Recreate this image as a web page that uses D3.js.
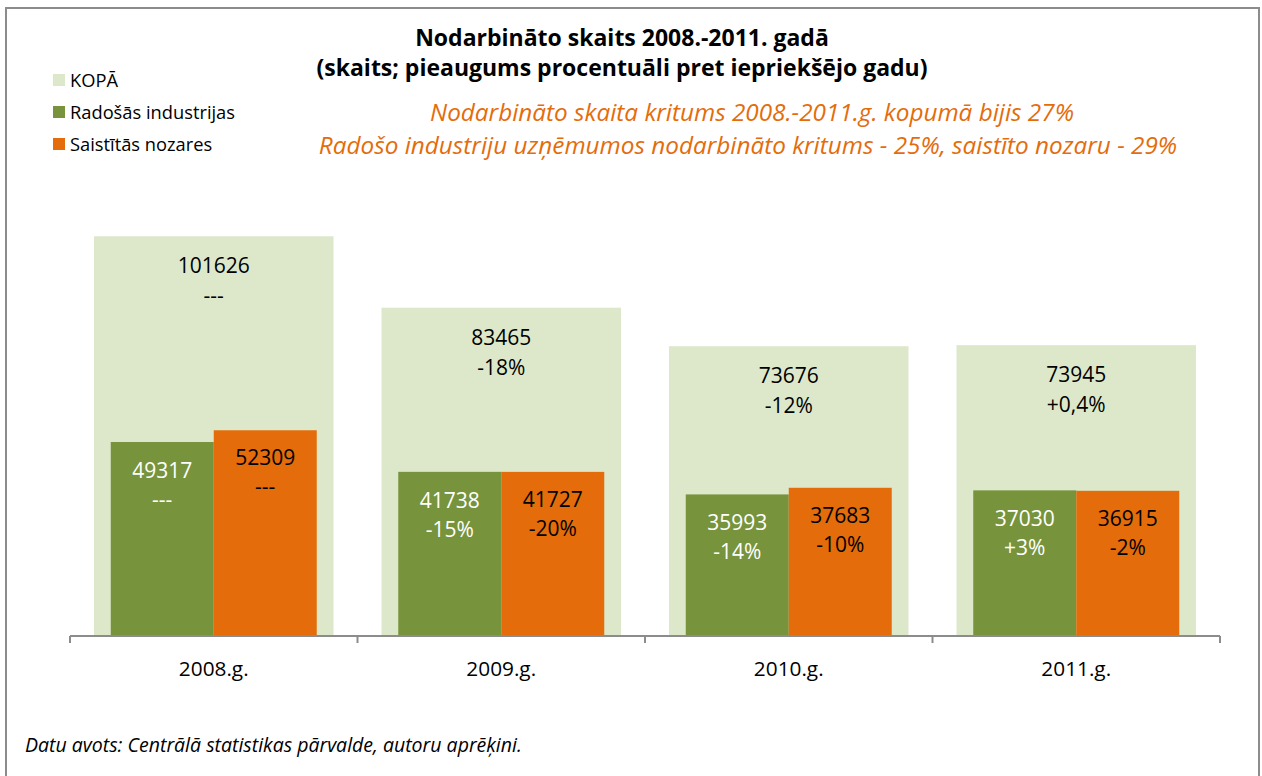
<!DOCTYPE html>
<html>
<head>
<meta charset="utf-8">
<script src="https://cdn.jsdelivr.net/npm/d3@7"></script>
<style>
  body { margin: 0; background: #fff; }
  text { font-family: "Open Sans", "Noto Sans", sans-serif; }
</style>
</head>
<body>
<svg id="chart" width="1262" height="776"></svg>
<script>
var years = ["2008.g.", "2009.g.", "2010.g.", "2011.g."];
var kopa = [101626, 83465, 73676, 73945];
var kopaPct = ["---", "-18%", "-12%", "+0,4%"];
var rados = [49317, 41738, 35993, 37030];
var radosPct = ["---", "-15%", "-14%", "+3%"];
var saist = [52309, 41727, 37683, 36915];
var saistPct = ["---", "-20%", "-10%", "-2%"];
var legendNames = ["KOPĀ", "Radošās industrijas", "Saistītās nozares"];
var colors = ["#dde8cb", "#77933c", "#e46c0a"];

var svg = d3.select("#chart");

// outer frame
svg.append("rect")
  .attr("x", 6).attr("y", 8).attr("width", 1253).attr("height", 790)
  .attr("fill", "none").attr("stroke", "#8c8c8c").attr("stroke-width", 2);

// title
var title = svg.append("text")
  .attr("text-anchor", "middle")
  .attr("font-weight", "bold")
  .attr("font-size", 23)
  .attr("fill", "#000");
title.append("tspan").attr("x", 622).attr("y", 46).text("Nodarbināto skaits 2008.-2011. gadā");
title.append("tspan").attr("x", 622).attr("y", 76).text("(skaits; pieaugums procentuāli pret iepriekšējo gadu)");

// orange notes
var note = svg.append("text")
  .attr("text-anchor", "middle")
  .attr("font-style", "italic")
  .attr("font-size", 24.3)
  .attr("fill", "#e46c0a");
note.append("tspan").attr("x", 752).attr("y", 121).text("Nodarbināto skaita kritums 2008.-2011.g. kopumā bijis 27%");
note.append("tspan").attr("x", 748).attr("y", 154).text("Radošo industriju uzņēmumos nodarbināto kritums - 25%, saistīto nozaru - 29%");

// legend
var legend = svg.selectAll(".legend")
  .data(legendNames)
  .enter().append("g")
  .attr("class", "legend")
  .attr("transform", function (d, i) { return "translate(53," + (74 + i * 32) + ")"; });
legend.append("rect").attr("width", 12).attr("height", 12)
  .attr("fill", function (d, i) { return colors[i]; });
legend.append("text").attr("x", 17).attr("y", 12.5)
  .attr("font-size", 18.3).attr("fill", "#000")
  .text(function (d) { return d; });

// scales
var x0 = d3.scaleBand().domain(years).range([70, 1220]).paddingInner(0).paddingOuter(0);
var y = d3.scaleLinear().domain([0, 120000]).range([636, 164]);
var kopaInset = 24;
var innerW = 103;

var data = years.map(function (yr, i) {
  return { year: yr, kopa: kopa[i], kopaPct: kopaPct[i],
    rados: rados[i], radosPct: radosPct[i], saist: saist[i], saistPct: saistPct[i] };
});

var g = svg.selectAll(".group")
  .data(data)
  .enter().append("g")
  .attr("class", "group")
  .attr("transform", function (d) { return "translate(" + x0(d.year) + ",0)"; });

var bw = x0.bandwidth();
var mid = bw / 2;

g.append("rect")
  .attr("x", kopaInset).attr("width", bw - 2 * kopaInset)
  .attr("y", function (d) { return y(d.kopa); })
  .attr("height", function (d) { return y(0) - y(d.kopa); })
  .attr("fill", colors[0]);

g.append("rect")
  .attr("x", mid - innerW).attr("width", innerW)
  .attr("y", function (d) { return y(d.rados); })
  .attr("height", function (d) { return y(0) - y(d.rados); })
  .attr("fill", colors[1]);

g.append("rect")
  .attr("x", mid).attr("width", innerW)
  .attr("y", function (d) { return y(d.saist); })
  .attr("height", function (d) { return y(0) - y(d.saist); })
  .attr("fill", colors[2]);

function addLabel(sel, cx, key, pctKey, fill, off1, off2) {
  var t = sel.append("text")
    .attr("text-anchor", "middle")
    .attr("font-size", 21)
    .attr("fill", fill);
  t.append("tspan").attr("x", cx)
    .attr("y", function (d) { return y(d[key]) + off1; })
    .text(function (d) { return d[key]; });
  t.append("tspan").attr("x", cx)
    .attr("y", function (d) { return y(d[key]) + off2; })
    .text(function (d) { return d[pctKey]; });
}
addLabel(g, mid, "kopa", "kopaPct", "#000", 37, 67);
addLabel(g, mid - innerW / 2, "rados", "radosPct", "#fff", 36, 65);
addLabel(g, mid + innerW / 2, "saist", "saistPct", "#000", 35, 64);

// x axis
var axis = svg.append("g")
  .attr("transform", "translate(0," + y(0) + ")");
axis.append("line")
  .attr("x1", 70).attr("x2", 1220)
  .attr("stroke", "#8c8c8c").attr("stroke-width", 2);
var ticks = years.map(function (d) { return x0(d); }).concat([x0.range()[1]]);
axis.selectAll(".tick")
  .data(ticks)
  .enter().append("line")
  .attr("x1", function (d) { return d; }).attr("x2", function (d) { return d; })
  .attr("y1", 0).attr("y2", 7)
  .attr("stroke", "#8c8c8c").attr("stroke-width", 2);
axis.selectAll(".cat")
  .data(years)
  .enter().append("text")
  .attr("text-anchor", "middle")
  .attr("x", function (d) { return x0(d) + mid; })
  .attr("y", 40)
  .attr("font-size", 20.8)
  .attr("fill", "#000")
  .text(function (d) { return d; });

// source
svg.append("text")
  .attr("x", 25).attr("y", 752)
  .attr("font-style", "italic")
  .attr("font-size", 19.5)
  .attr("fill", "#000")
  .text("Datu avots: Centrālā statistikas pārvalde, autoru aprēķini.");
</script>
</body>
</html>
